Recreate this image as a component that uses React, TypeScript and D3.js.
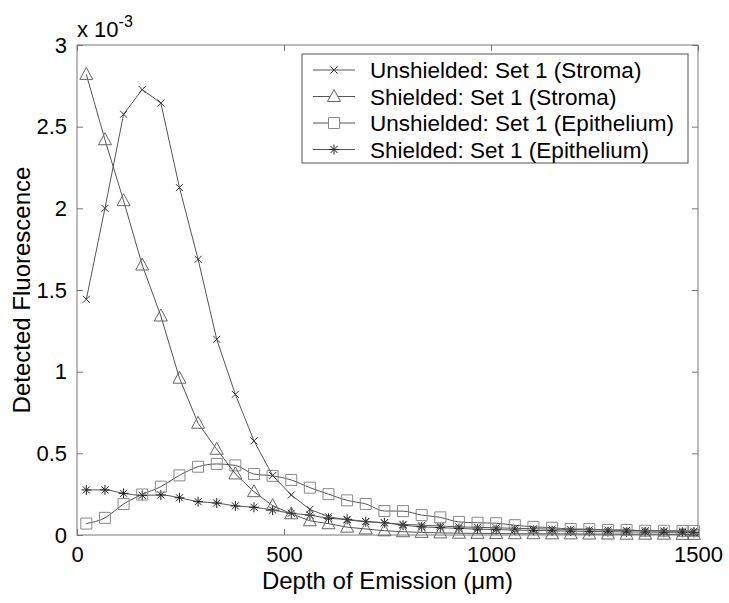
import React, { useEffect, useRef } from "react";
import * as d3 from "d3";

// depth of emission (um), bin centres
const depths = [22.5, 67.5, 112.5, 157.5, 202.5, 247.5, 292.5, 337.5, 382.5, 427.5, 472.5, 517.5, 562.5, 607.5, 652.5, 697.5, 742.5, 787.5, 832.5, 877.5, 922.5, 967.5, 1012.5, 1057.5, 1102.5, 1147.5, 1192.5, 1237.5, 1282.5, 1327.5, 1372.5, 1417.5, 1462.5, 1490];

// detected fluorescence, x 10^-3
const unshieldedStroma = [1.443, 2.0, 2.576, 2.727, 2.645, 2.127, 1.688, 1.198, 0.861, 0.576, 0.364, 0.245, 0.157, 0.112, 0.092, 0.082, 0.075, 0.065, 0.06, 0.055, 0.05, 0.047, 0.044, 0.041, 0.038, 0.036, 0.034, 0.032, 0.03, 0.028, 0.027, 0.025, 0.024, 0.023];
const shieldedStroma = [2.82, 2.42, 2.047, 1.653, 1.341, 0.96, 0.684, 0.525, 0.374, 0.265, 0.18, 0.13, 0.087, 0.069, 0.048, 0.037, 0.026, 0.02, 0.016, 0.013, 0.011, 0.01, 0.009, 0.008, 0.008, 0.007, 0.007, 0.006, 0.006, 0.005, 0.005, 0.005, 0.004, 0.004];
const unshieldedEpi = [0.07, 0.105, 0.19, 0.248, 0.296, 0.365, 0.418, 0.435, 0.426, 0.373, 0.362, 0.337, 0.29, 0.25, 0.212, 0.19, 0.147, 0.146, 0.122, 0.108, 0.08, 0.075, 0.072, 0.06, 0.05, 0.045, 0.037, 0.036, 0.031, 0.031, 0.026, 0.026, 0.025, 0.024];
const shieldedEpi = [0.276, 0.276, 0.255, 0.243, 0.245, 0.228, 0.204, 0.196, 0.178, 0.17, 0.153, 0.133, 0.122, 0.102, 0.096, 0.082, 0.075, 0.06, 0.05, 0.045, 0.04, 0.036, 0.033, 0.03, 0.028, 0.026, 0.024, 0.022, 0.02, 0.019, 0.018, 0.017, 0.016, 0.015];

const seriesNames = ["Unshielded: Set 1 (Stroma)", "Shielded: Set 1 (Stroma)", "Unshielded: Set 1 (Epithelium)", "Shielded: Set 1 (Epithelium)"];
const seriesMarkers = ["x", "triangle", "square", "star"];
const seriesColors = ["#333", "#666", "#888", "#222"];

const xTicks = [0, 500, 1000, 1500];
const yTicks = [0, 0.5, 1, 1.5, 2, 2.5, 3];

const FONT = "Arial, 'Liberation Sans', sans-serif";

function markerPath(kind: string) {
  if (kind === "x") return "M-3.5,-3.5L3.5,3.5M-3.5,3.5L3.5,-3.5";
  if (kind === "triangle") return "M0,-7L6.5,5L-6.5,5Z";
  if (kind === "square") return "M-5.5,-5.5H5.5V5.5H-5.5Z";
  // asterisk
  return "M0,-5V5M-5,0H5M-3.5,-3.5L3.5,3.5M-3.5,3.5L3.5,-3.5";
}

export default function App() {
  const ref = useRef<SVGSVGElement>(null);

  useEffect(() => {
    const svg = d3.select(ref.current);
    svg.selectAll("*").remove();

    const margin = { top: 45, right: 31, bottom: 68, left: 77 };
    const W = 729, H = 603;
    const w = W - margin.left - margin.right;
    const h = H - margin.top - margin.bottom;

    const g = svg.append("g").attr("transform", `translate(${margin.left},${margin.top})`);

    const x = d3.scaleLinear().domain([0, 1500]).range([0, w]);
    const y = d3.scaleLinear().domain([0, 3]).range([h, 0]);

    // box
    g.append("rect").attr("width", w).attr("height", h).attr("fill", "none").attr("stroke", "#777");

    const styleAxis = (sel: any) => {
      sel.select(".domain").remove();
      sel.selectAll("line").attr("stroke", "#777");
      sel.attr("font-family", FONT).attr("font-size", 22);
      sel.selectAll("text").attr("fill", "#000");
    };

    g.append("g")
      .attr("transform", `translate(0,${h})`)
      .call(d3.axisBottom(x).tickValues(xTicks).tickSize(-6).tickPadding(11).tickFormat(d3.format("d")))
      .call(styleAxis);
    g.append("g")
      .call(d3.axisLeft(y).tickValues(yTicks).tickSize(-6).tickPadding(10).tickFormat((d: any) => String(d)))
      .call(styleAxis);
    g.append("g")
      .call(d3.axisTop(x).tickValues(xTicks).tickSize(-6).tickFormat(() => ""))
      .call(styleAxis);
    g.append("g")
      .attr("transform", `translate(${w},0)`)
      .call(d3.axisRight(y).tickValues(yTicks).tickSize(-6).tickFormat(() => ""))
      .call(styleAxis);

    // exponent
    const expo = svg.append("text").attr("x", 77).attr("y", 37).attr("font-family", FONT).attr("font-size", 22);
    expo.append("tspan").text("x 10");
    expo.append("tspan").attr("font-size", 16).attr("dy", -10).text("-3");

    // axis titles
    svg.append("text")
      .attr("x", margin.left + w / 2).attr("y", 589)
      .attr("text-anchor", "middle").attr("font-family", FONT).attr("font-size", 24)
      .text("Depth of Emission (\u03bcm)");
    svg.append("text")
      .attr("transform", `translate(30,${margin.top + h / 2}) rotate(-90)`)
      .attr("text-anchor", "middle").attr("font-family", FONT).attr("font-size", 24)
      .text("Detected Fluorescence");

    const allSeries = [unshieldedStroma, shieldedStroma, unshieldedEpi, shieldedEpi];
    const curves = [d3.curveLinear, d3.curveLinear, d3.curveMonotoneX, d3.curveMonotoneX];

    // draw bottom-up so the stroma curves sit on top
    [3, 2, 1, 0].forEach(k => {
      const vals = allSeries[k];
      const line = d3.line<number>()
        .x((d, i) => x(depths[i]))
        .y(d => y(d))
        .curve(curves[k]);
      const sg = g.append("g");
      sg.append("path")
        .attr("d", line(vals))
        .attr("fill", "none")
        .attr("stroke", "#555")
        .attr("stroke-width", 1);
      sg.selectAll("path.m")
        .data(vals)
        .join("path")
        .attr("class", "m")
        .attr("transform", (d, i) => `translate(${x(depths[i])},${y(d)})`)
        .attr("d", markerPath(seriesMarkers[k]))
        .attr("fill", "none")
        .attr("stroke", seriesColors[k])
        .attr("stroke-width", 1);
    });

    // legend
    const lg = svg.append("g").attr("transform", "translate(302,54)");
    lg.append("rect").attr("width", 386).attr("height", 109).attr("fill", "#fff").attr("stroke", "#555");
    seriesNames.forEach((name, k) => {
      const cy = 16 + k * 26.5;
      lg.append("line").attr("x1", 11).attr("x2", 53).attr("y1", cy).attr("y2", cy).attr("stroke", "#555");
      lg.append("path")
        .attr("transform", `translate(32,${cy})`)
        .attr("d", markerPath(seriesMarkers[k]))
        .attr("fill", "#fff")
        .attr("stroke", seriesColors[k]);
      lg.append("text")
        .attr("x", 68).attr("y", cy).attr("dy", "0.36em")
        .attr("font-family", FONT).attr("font-size", 22.5)
        .text(name);
    });
  }, []);

  return (
    <svg ref={ref} width={729} height={603} style={{ position: "absolute", left: 0, top: 0, background: "#fff" }} />
  );
}
